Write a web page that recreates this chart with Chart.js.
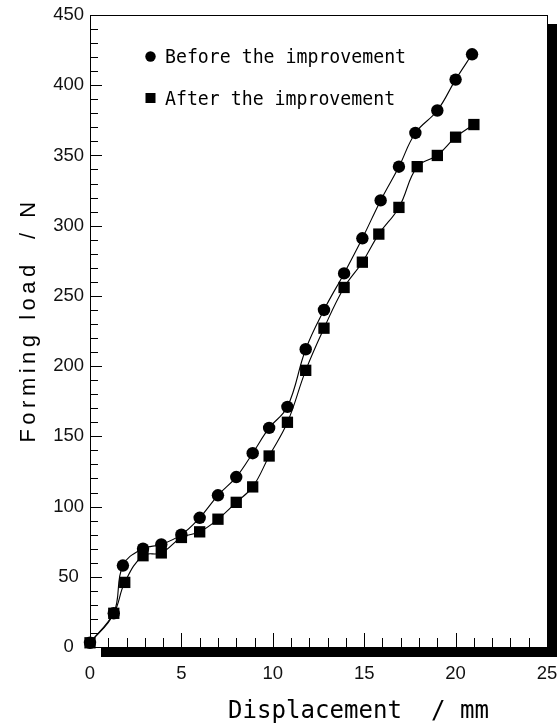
<!DOCTYPE html>
<html>
<head>
<meta charset="utf-8">
<title>Forming load vs displacement</title>
<script src="https://cdn.jsdelivr.net/npm/chart.js@4.4.1/dist/chart.umd.min.js"></script>
<style>
  html, body { margin: 0; padding: 0; background: #fff; overflow: hidden; }
  #loadChart { display: block; width: 557px; height: 726px; }
</style>
</head>
<body>
<canvas id="loadChart" width="557" height="726"></canvas>
<script>
// values
const beforeX = [0, 1.3, 1.8, 2.9, 3.9, 5.0, 6.0, 7.0, 8.0, 8.9, 9.8, 10.8, 11.8, 12.8, 13.9, 14.9, 15.9, 16.9, 17.8, 19.0, 20.0, 20.9];
const beforeY = [3, 24, 58, 70, 73, 80, 92, 108, 121, 138, 156, 171, 212, 240, 266, 291, 318, 342, 366, 382, 404, 422];
const afterX = [0, 1.3, 1.9, 2.9, 3.9, 5.0, 6.0, 7.0, 8.0, 8.9, 9.8, 10.8, 11.8, 12.8, 13.9, 14.9, 15.8, 16.9, 17.9, 19.0, 20.0, 21.0];
const afterY = [3, 24, 46, 65, 67, 78, 82, 91, 103, 114, 136, 160, 197, 227, 256, 274, 294, 313, 342, 350, 363, 372];

const legendLabels = ["Before the improvement", "After the improvement"];
const xTitle = "Displacement  / mm";
const yTitle = "Forming load  / N";

const xMin = 0, xMax = 25, xMajor = 5, xMinor = 1;
const yMin = 0, yMax = 450, yMajor = 50, yMinor = 10;

function toPoints(xs, ys) {
  return xs.map((x, i) => ({ x, y: ys[i] }));
}

// shadow box behind the plot, frame and inward ticks
const framePlugin = {
  id: "frame",
  beforeDraw(chart) {
    const { ctx, chartArea: a } = chart;
    ctx.save();
    ctx.fillStyle = "#fff";
    ctx.fillRect(0, 0, chart.width, chart.height);
    ctx.fillStyle = "#000";
    ctx.fillRect(a.left + 11, a.top + 9, a.right - a.left + 1, a.bottom - a.top + 1);
    ctx.fillStyle = "#fff";
    ctx.fillRect(a.left, a.top, a.right - a.left, a.bottom - a.top);
    ctx.restore();
  },
  beforeDatasetsDraw(chart) {
    const { ctx, chartArea: a, scales } = chart;
    const x = scales.x, y = scales.y;
    ctx.save();
    ctx.strokeStyle = "#000";
    ctx.lineWidth = 1;
    ctx.strokeRect(a.left + 0.5, a.top + 0.5, a.right - a.left, a.bottom - a.top);
    ctx.beginPath();
    for (let v = yMin; v <= yMax; v += yMinor) {
      const py = Math.round(y.getPixelForValue(v)) + 0.5;
      const len = v % yMajor === 0 ? 12 : 8;
      ctx.moveTo(a.left, py);
      ctx.lineTo(a.left + len, py);
    }
    for (let v = xMin; v <= xMax; v += xMinor) {
      const px = Math.round(x.getPixelForValue(v)) + 0.5;
      const len = v % xMajor === 0 ? 14 : 9;
      ctx.moveTo(px, a.bottom);
      ctx.lineTo(px, a.bottom - len);
    }
    ctx.stroke();
    ctx.restore();
  },
  afterDraw(chart) {
    const { ctx, chartArea: a } = chart;
    ctx.save();
    ctx.fillStyle = "#000";

    // legend
    ctx.beginPath();
    ctx.arc(a.left + 60.5, a.top + 41.5, 5.2, 0, Math.PI * 2);
    ctx.fill();
    ctx.fillRect(a.left + 55.5, a.top + 78, 10, 10);
    ctx.font = '20px "DejaVu Sans Mono"';
    ctx.textBaseline = "alphabetic";
    ctx.textAlign = "left";
    [[a.top + 48, legendLabels[0]], [a.top + 90, legendLabels[1]]].forEach(([by, label]) => {
      ctx.save();
      ctx.translate(a.left + 75, by);
      ctx.scale(0.91, 1);
      ctx.fillText(label, 0, 0);
      ctx.restore();
    });

    // x title
    ctx.save();
    ctx.translate(a.left + 138, a.bottom + 71);
    ctx.scale(0.963, 1);
    ctx.font = '25px "DejaVu Sans Mono"';
    ctx.fillText(xTitle, 0, 0);
    ctx.restore();

    // y title
    ctx.save();
    ctx.translate(35, 320);
    ctx.rotate(-Math.PI / 2);
    ctx.font = '22px "Liberation Sans"';
    ctx.letterSpacing = "4.5px";
    ctx.textAlign = "center";
    ctx.fillText(yTitle, 0, 0);
    ctx.restore();

    ctx.restore();
  }
};

function initChart() {
  const ctx = document.getElementById("loadChart").getContext("2d");
  new Chart(ctx, {
    type: "scatter",
    data: {
      datasets: [
        {
          label: legendLabels[1],
          data: toPoints(afterX, afterY),
          showLine: true,
          tension: 0.4,
          borderColor: "#000",
          borderWidth: 1.1,
          pointStyle: "rect",
          pointRadius: 8,
          pointBackgroundColor: "#000",
          pointBorderWidth: 0,
          clip: false
        },
        {
          label: legendLabels[0],
          data: toPoints(beforeX, beforeY),
          showLine: true,
          tension: 0.4,
          borderColor: "#000",
          borderWidth: 1.1,
          pointStyle: "circle",
          pointRadius: 6.2,
          pointBackgroundColor: "#000",
          pointBorderWidth: 0,
          clip: false
        }
      ]
    },
    options: {
      responsive: false,
      animation: false,
      events: [],
      layout: { padding: { left: 0, top: 15, right: 10, bottom: 0 } },
      plugins: {
        legend: { display: false },
        tooltip: { enabled: false }
      },
      scales: {
        x: {
          type: "linear",
          min: xMin,
          max: xMax,
          grid: { display: false, drawTicks: false, tickLength: 0 },
          border: { display: false },
          ticks: {
            stepSize: xMajor,
            color: "#111",
            padding: 16,
            font: { family: "Liberation Sans", size: 18.5 },
            maxRotation: 0
          },
          afterFit: (s) => {
            s.height = 79;
            s.paddingLeft = 0;
            s.paddingRight = 0;
          }
        },
        y: {
          min: yMin,
          max: yMax,
          grid: { display: false, drawTicks: false, tickLength: 0 },
          border: { display: false },
          ticks: {
            stepSize: yMajor,
            color: "#111",
            padding: 6,
            crossAlign: "center",
            font: { family: "Liberation Sans", size: 18.5 }
          },
          afterFit: (s) => {
            s.width = 90;
            s.paddingTop = 0;
            s.paddingBottom = 0;
          }
        }
      }
    },
    plugins: [framePlugin]
  });
}

document.addEventListener("DOMContentLoaded", initChart);
</script>
</body>
</html>
